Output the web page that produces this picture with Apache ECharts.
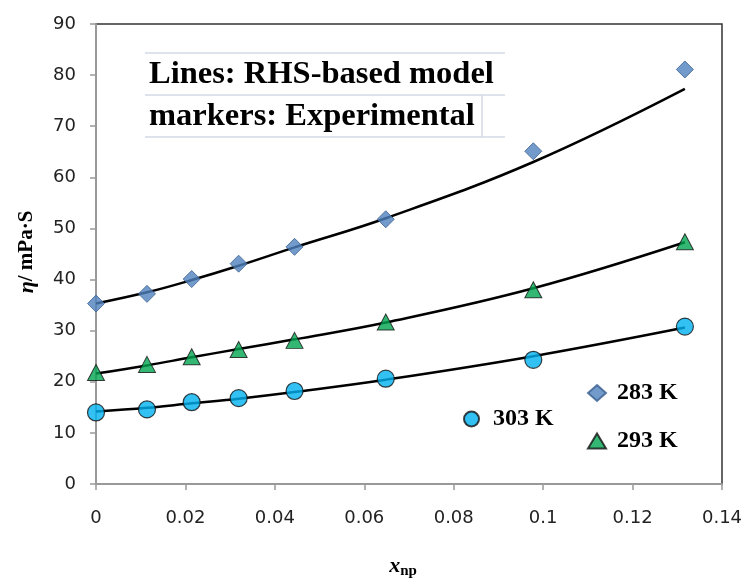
<!DOCTYPE html>
<html><head><meta charset="utf-8">
<script src="https://cdn.jsdelivr.net/npm/echarts@6/dist/echarts.min.js"></script>
<style>html,body{margin:0;padding:0;background:#fff}#c{width:747px;height:580px}</style>
</head><body><div id="c"></div>
<script>
// Experimental x (mole fraction of nanoparticles)
const xExp = [0, 0.0114, 0.0214, 0.0319, 0.0444, 0.0648, 0.0978, 0.1317];
const exp283 = [35.3, 37.2, 40.1, 43.1, 46.4, 51.8, 65.1, 81.1];
const exp293 = [21.8, 23.4, 24.9, 26.3, 28.1, 31.7, 38.0, 47.4];
const exp303 = [14.0, 14.6, 16.0, 16.8, 18.2, 20.6, 24.3, 30.8];
// Model (RHS-based) curves
const xModel = [0, 0.0114, 0.0214, 0.0319, 0.0444, 0.0648, 0.0978, 0.1317];
const mod283 = [35.3, 37.5, 39.9, 42.7, 46.3, 52.0, 63.0, 77.3];
const mod293 = [21.6, 23.2, 24.8, 26.4, 28.3, 31.6, 38.3, 47.3];
const mod303 = [14.2, 14.9, 15.8, 16.7, 18.0, 20.4, 25.0, 30.6];
const xTicks = {min: 0, max: 0.14, interval: 0.02};
const yTicks = {min: 0, max: 90, interval: 10};

const pair = (xs, ys) => xs.map((x, i) => [x, ys[i]]);
const chart = echarts.init(document.getElementById('c'));
const serif = '"Liberation Serif", "Times New Roman", serif';
const sans = '"DejaVu Sans", Verdana, sans-serif';
const legendBase = {
  orient: 'horizontal', itemGap: 0,
  textStyle: {fontFamily: serif, fontWeight: 'bold', fontSize: 24, color: '#000', padding: [0, 0, 0, 6]},
  selectedMode: false
};
const modelLine = (name, d) => ({
  name: name, type: 'line', data: pair(xModel, d), smooth: 0.4, showSymbol: false, symbol: 'none',
  lineStyle: {color: '#000', width: 2.5}, z: 2, silent: true
});
chart.setOption({
  animation: false,
  grid: {left: 96, right: 25, top: 24, bottom: 96, show: true, borderColor: '#333', borderWidth: 1.5},
  xAxis: {
    type: 'value', min: xTicks.min, max: xTicks.max, interval: xTicks.interval,
    axisLine: {onZero: false, lineStyle: {color: '#999', width: 2}},
    axisTick: {show: true, length: 6, lineStyle: {color: '#999', width: 1.5}},
    axisLabel: {fontFamily: sans, fontSize: 18, color: '#222', margin: 25},
    splitLine: {show: false}
  },
  yAxis: {
    type: 'value', min: yTicks.min, max: yTicks.max, interval: yTicks.interval,
    axisLine: {show: true, lineStyle: {color: '#999', width: 2}},
    axisTick: {show: true, length: 6, lineStyle: {color: '#999', width: 1.5}},
    axisLabel: {fontFamily: sans, fontSize: 18, color: '#222', margin: 20},
    splitLine: {show: false}
  },
  legend: [
    Object.assign({}, legendBase, {data: ['283 K'], left: 582, top: 376, itemWidth: 18, itemHeight: 16}),
    Object.assign({}, legendBase, {data: ['303 K'], left: 458, top: 402, itemWidth: 17, itemHeight: 15,
      textStyle: Object.assign({}, legendBase.textStyle, {padding: [0, 0, 0, 8]})}),
    Object.assign({}, legendBase, {data: ['293 K'], left: 582, top: 424, itemWidth: 18, itemHeight: 15})
  ],
  graphic: [
    {type: 'line', shape: {x1: 145, y1: 53, x2: 505, y2: 53}, style: {stroke: '#d3d9e6', lineWidth: 1.5}},
    {type: 'line', shape: {x1: 145, y1: 95, x2: 505, y2: 95}, style: {stroke: '#d3d9e6', lineWidth: 1.5}},
    {type: 'line', shape: {x1: 145, y1: 137, x2: 505, y2: 137}, style: {stroke: '#d3d9e6', lineWidth: 1.5}},
    {type: 'line', shape: {x1: 482, y1: 95, x2: 482, y2: 137}, style: {stroke: '#d3d9e6', lineWidth: 1.5}},
    {type: 'text', left: 149, top: 58, style: {text: 'Lines: RHS-based model', font: 'bold 32.5px ' + serif, fill: '#000'}},
    {type: 'text', left: 149, top: 100, style: {text: 'markers: Experimental', font: 'bold 32.5px ' + serif, fill: '#000'}},
    {type: 'text', x: 27, y: 252, rotation: Math.PI / 2,
      style: {text: '{i|η}{n|/ mPa·S}', align: 'center', verticalAlign: 'middle',
        rich: {i: {fontFamily: serif, fontStyle: 'italic', fontWeight: 'bold', fontSize: 22, fill: '#000'},
               n: {fontFamily: serif, fontWeight: 'bold', fontSize: 21, fill: '#000'}}}},
    {type: 'text', x: 403, y: 566,
      style: {text: '{i|x}{s|np}', align: 'center', verticalAlign: 'middle',
        rich: {i: {fontFamily: serif, fontStyle: 'italic', fontWeight: 'bold', fontSize: 22, fill: '#000'},
               s: {fontFamily: serif, fontWeight: 'bold', fontSize: 15, fill: '#000', padding: [10, 0, 0, 0]}}}}
  ],
  series: [
    modelLine('m283', mod283), modelLine('m293', mod293), modelLine('m303', mod303),
    {name: '283 K', type: 'scatter', data: pair(xExp, exp283), symbol: 'diamond', symbolSize: [17, 17], z: 3,
      itemStyle: {color: '#4f81bd', borderColor: '#3a5f8f', borderWidth: 1}},
    {name: '293 K', type: 'scatter', data: pair(xExp, exp293), symbol: 'triangle', symbolSize: [17, 16], z: 3,
      itemStyle: {color: '#00a550', borderColor: '#111', borderWidth: 1}},
    {name: '303 K', type: 'scatter', data: pair(xExp, exp303), symbol: 'circle', symbolSize: 17, z: 3,
      itemStyle: {color: '#00b0f0', borderColor: '#111', borderWidth: 1.2}}
  ]
});
</script></body></html>
